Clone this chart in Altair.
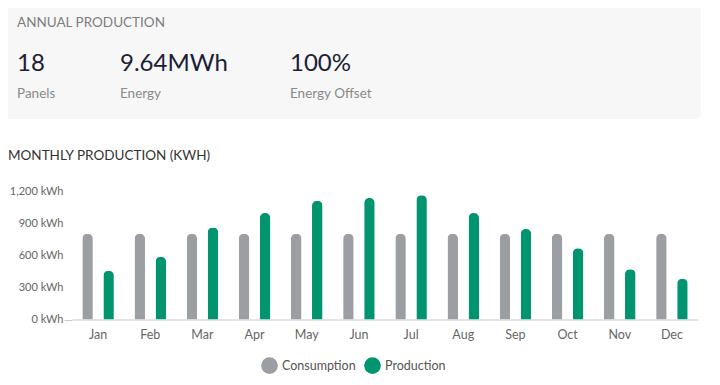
import altair as alt
import pandas as pd

months = ["Jan", "Feb", "Mar", "Apr", "May", "Jun", "Jul", "Aug", "Sep", "Oct", "Nov", "Dec"]
consumption = [800, 800, 800, 800, 800, 800, 800, 800, 800, 800, 800, 800]
production = [455, 585, 860, 995, 1110, 1135, 1160, 995, 845, 665, 470, 380]
series_names = ["Consumption", "Production"]
series_colors = ["#9b9ea2", "#00956f"]
y_ticks = [0, 300, 600, 900, 1200]

stats_values = ["18", "9.64MWh", "100%"]
stats_labels = ["Panels", "Energy", "Energy Offset"]

rows = []
for m, c, p in zip(months, consumption, production):
    rows.append({"month": m, "series": "Consumption", "value": c})
    rows.append({"month": m, "series": "Production", "value": p})
df = pd.DataFrame(rows)

FONT = "Lato"
W, H = 626, 128.5
OX, OY = 72, 191  # screen position of the plot origin

bars = alt.Chart(df).mark_bar(cornerRadiusEnd=5).encode(
    x=alt.X("month:N", sort=months, title=None,
            scale=alt.Scale(paddingInner=0, paddingOuter=0),
            axis=alt.Axis(labelAngle=0, tickSize=0, labelPadding=9,
                          domainColor="#c9c9c9", labelColor="#666666",
                          labelFontSize=12.5, labelFont=FONT)),
    xOffset=alt.XOffset("series:N", sort=series_names,
                        scale=alt.Scale(paddingInner=0.5, paddingOuter=0.49)),
    y=alt.Y("value:Q", title=None,
            scale=alt.Scale(domain=[0, 1200]),
            axis=alt.Axis(values=y_ticks, grid=False, domain=False,
                          labelExpr="format(datum.value, ',') + ' kWh'",
                          tickSize=8, labelPadding=1,
                          tickColor={"condition": {"test": "datum.value == 0", "value": "#c9c9c9"},
                                     "value": "transparent"},
                          labelColor="#666666", labelFontSize=11, labelFont=FONT)),
    color=alt.Color("series:N",
                    scale=alt.Scale(domain=series_names, range=series_colors),
                    legend=alt.Legend(title=None, orient="none", direction="horizontal",
                                      legendX=189, legendY=166, symbolType="circle",
                                      symbolSize=280, symbolStrokeWidth=0, labelFontSize=12.5,
                                      labelFont=FONT, labelColor="#555555", labelOffset=4,
                                      columnPadding=8, padding=0)),
)

one = alt.Data(values=[{"a": 1}])

card = alt.Chart(one).mark_rect(color="#f7f7f7", cornerRadius=7).encode(
    x=alt.value(0 - OX), x2=alt.value(701 - OX),
    y=alt.value(0 - OY), y2=alt.value(119 - OY),
)


def txt(s, x, y, size, color, weight="normal"):
    return alt.Chart(one).mark_text(
        text=s, align="left", baseline="middle", font=FONT,
        fontSize=size, color=color, fontWeight=weight,
    ).encode(x=alt.value(x - OX), y=alt.value(y - OY))


layers = [card, txt("ANNUAL PRODUCTION", 17, 23, 13.5, "#7d7d7d")]
for xs, v, l in zip([17, 120, 290], stats_values, stats_labels):
    layers.append(txt(v, xs, 64, 24, "#1b2135"))
    layers.append(txt(l, xs, 94, 13.5, "#8a8a8a"))
layers.append(txt("MONTHLY PRODUCTION (KWH)", 8, 156, 13.5, "#333333"))
layers.append(bars)

chart = alt.layer(*layers).properties(
    width=W, height=H,
    padding={"left": OX - 8, "top": OY - 8, "right": 14, "bottom": 369 - (OY - 8) - H},
    autosize=alt.AutoSizeParams(type="none"),
).configure_view(stroke=None)

chart.save("out.html", embed_options={"renderer": "svg", "actions": False})
